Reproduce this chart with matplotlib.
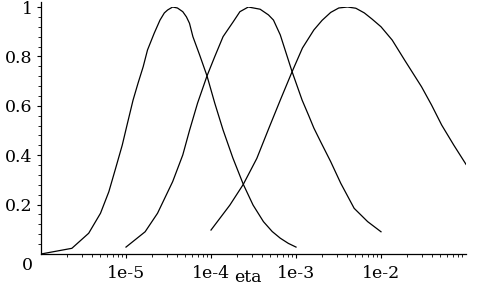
import numpy as np
import matplotlib.pyplot as plt
from matplotlib.ticker import FixedLocator, FixedFormatter, LogLocator, NullFormatter

# log10(eta) and value
c1_logeta = [-6.0, -5.637, -5.439, -5.300, -5.202, -5.122, -5.044, -4.988, -4.917,
             -4.858, -4.798, -4.747, -4.668, -4.600, -4.549, -4.510, -4.451, -4.395,
             -4.332, -4.289, -4.253, -4.213, -4.134, -4.047, -3.956, -3.858, -3.743,
             -3.620, -3.505, -3.383, -3.280, -3.185, -3.090, -3.0]
c1_val = [0.0, 0.023, 0.084, 0.165, 0.252, 0.347, 0.441, 0.522, 0.623,
          0.692, 0.758, 0.826, 0.894, 0.947, 0.976, 0.988, 1.0, 0.996,
          0.981, 0.960, 0.934, 0.880, 0.806, 0.721, 0.611, 0.502, 0.389,
          0.282, 0.198, 0.131, 0.091, 0.064, 0.043, 0.028]

c2_logeta = [-5.0, -4.775, -4.629, -4.451, -4.332, -4.253, -4.158, -4.047, -3.956,
             -3.858, -3.739, -3.660, -3.561, -3.422, -3.324, -3.265, -3.185, -3.046,
             -2.928, -2.850, -2.790, -2.711, -2.592, -2.473, -2.316, -2.157, -2.0]
c2_val = [0.028, 0.090, 0.165, 0.293, 0.401, 0.500, 0.611, 0.721, 0.799,
          0.880, 0.940, 0.981, 1.0, 0.991, 0.968, 0.947, 0.887, 0.738,
          0.623, 0.560, 0.510, 0.455, 0.374, 0.286, 0.185, 0.131, 0.090]

c3_logeta = [-4.0, -3.778, -3.620, -3.461, -3.316, -3.185, -3.046, -2.924, -2.790,
             -2.693, -2.592, -2.497, -2.394, -2.296, -2.196, -2.105, -2.0, -1.868,
             -1.722, -1.523, -1.405, -1.286, -1.144, -1.0]
c3_val = [0.097, 0.198, 0.282, 0.387, 0.512, 0.623, 0.738, 0.834, 0.907,
          0.946, 0.978, 0.996, 1.0, 0.995, 0.976, 0.951, 0.920, 0.866,
          0.785, 0.677, 0.603, 0.522, 0.441, 0.363]

xtick_pos = [1e-5, 1e-4, 1e-3, 1e-2]
xtick_lab = ['1e-5', '1e-4', '1e-3', '1e-2']
ytick_pos = [0.2, 0.4, 0.6, 0.8, 1.0]
ytick_lab = ['0.2', '0.4', '0.6', '0.8', '1']

plt.rcParams['font.family'] = ['DejaVu Serif']
plt.rcParams['font.size'] = 12.5

fig = plt.figure(figsize=(4.82, 2.86), dpi=100)
ax = fig.add_axes([41/482, 1-254/286, (466-41)/482, (254-7)/286])

for lx, v in [(c1_logeta, c1_val), (c2_logeta, c2_val), (c3_logeta, c3_val)]:
    ax.plot(10.0**np.array(lx), v, color='black', lw=0.9)

ax.set_xscale('log')
ax.set_xlim(1e-6, 1e-1)
ax.set_ylim(0, 1.0)

ax.spines['top'].set_visible(False)
ax.spines['right'].set_visible(False)
ax.spines['left'].set_bounds(0, 1.02)
ax.spines['left'].set_linewidth(0.9)
ax.spines['bottom'].set_linewidth(0.9)

ax.xaxis.set_major_locator(FixedLocator(xtick_pos))
ax.xaxis.set_major_formatter(FixedFormatter(xtick_lab))
ax.xaxis.set_minor_locator(LogLocator(base=10, subs=np.arange(2, 10)))
ax.xaxis.set_minor_formatter(NullFormatter())
ax.yaxis.set_major_locator(FixedLocator(ytick_pos))
ax.yaxis.set_major_formatter(FixedFormatter(ytick_lab))
ax.yaxis.set_minor_locator(FixedLocator(np.arange(0.04, 1.0, 0.04)))

ax.tick_params(axis='x', which='major', direction='out', length=3, width=0.8, pad=5)
ax.tick_params(axis='x', which='minor', direction='out', length=2, width=0.6)
ax.tick_params(axis='y', which='major', direction='out', length=3, width=0.8, pad=3)
ax.tick_params(axis='y', which='minor', direction='out', length=2, width=0.6)

fig.text(248/482, 1-278/286, 'eta', ha='center', va='center', fontsize=12.5)
fig.text(27/482, 1-266/286, '0', ha='center', va='center', fontsize=12.5)

fig.savefig('out.png', dpi=100)
